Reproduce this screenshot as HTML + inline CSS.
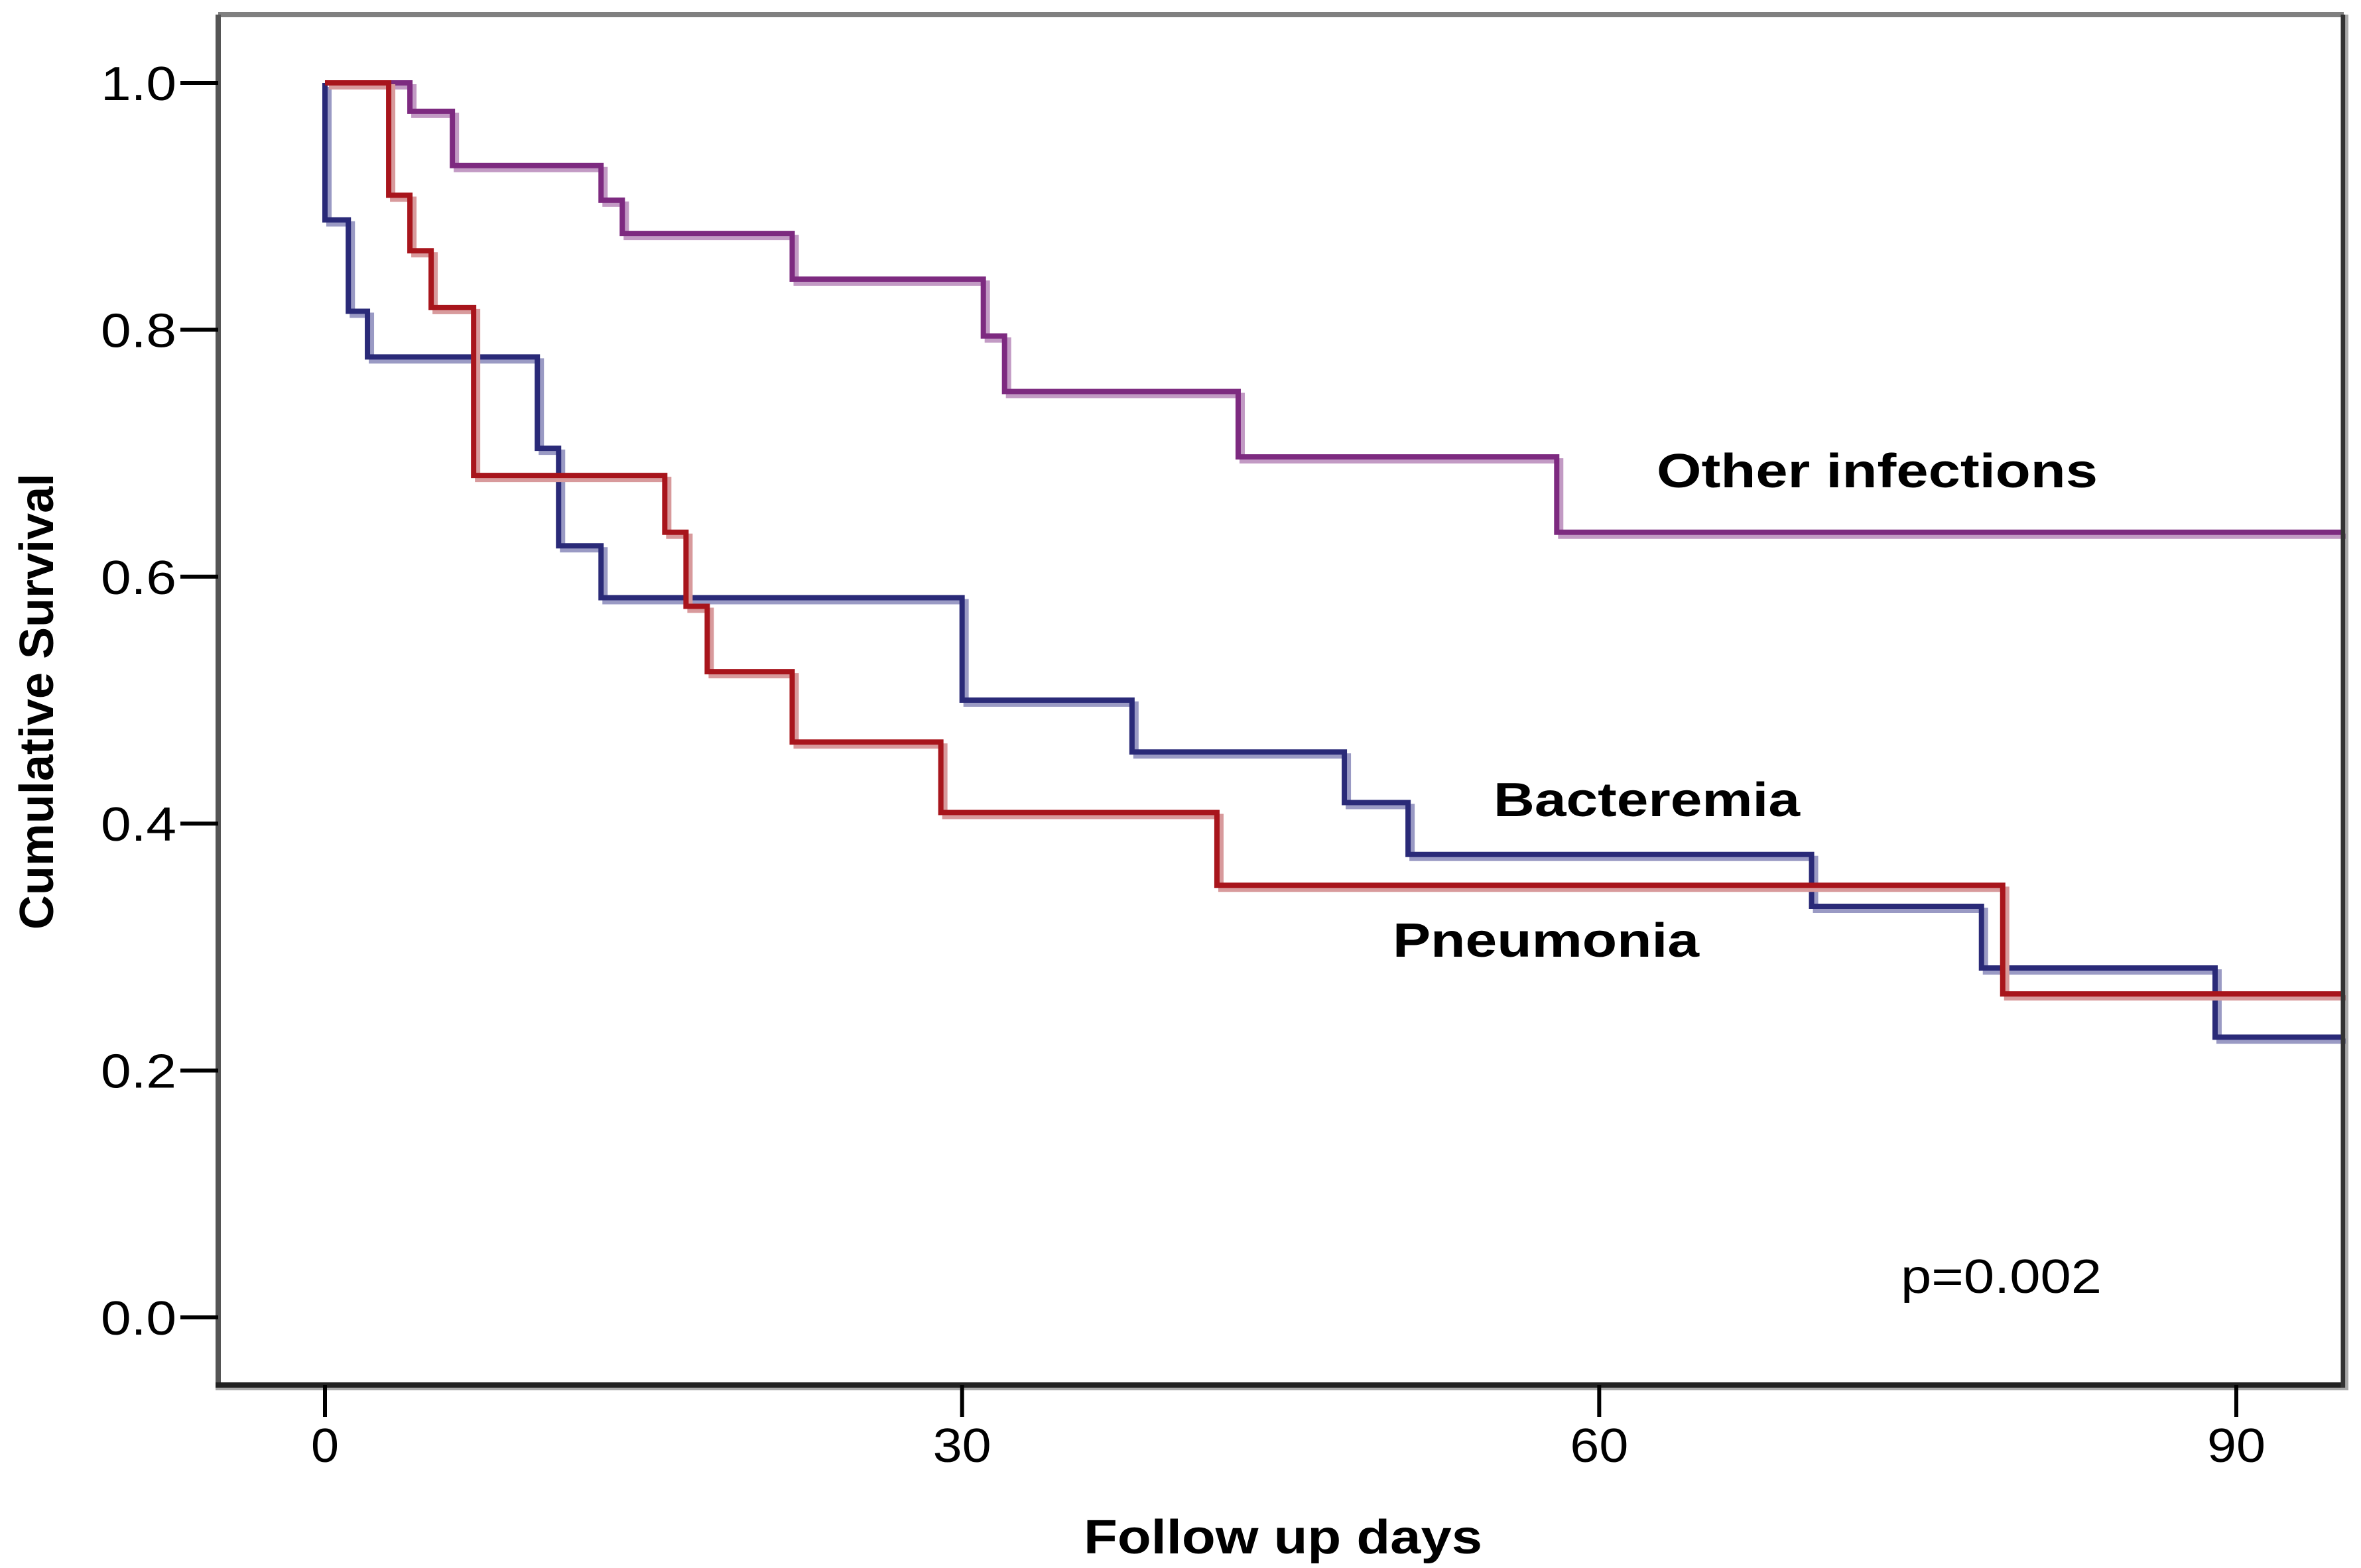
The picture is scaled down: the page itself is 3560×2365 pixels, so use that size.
<!DOCTYPE html>
<html><head><meta charset="utf-8"><style>
html,body{margin:0;padding:0;background:#fff;}
svg{display:block;}
text{font-family:"Liberation Sans",Arial,sans-serif;}
</style></head><body>
<svg id="chart" width="3560" height="2365" viewBox="0 0 3560 2365" xmlns="http://www.w3.org/2000/svg">
<rect x="0" y="0" width="3560" height="2365" fill="#fff"/>
<g id="series"></g>
<line x1="329" y1="22" x2="3534" y2="22" stroke="#808080" stroke-width="8"/>
<line x1="329" y1="22" x2="329" y2="2090" stroke="#555" stroke-width="8"/>
<line x1="325" y1="2089" x2="3536" y2="2089" stroke="#222" stroke-width="8"/>
<line x1="325" y1="2095" x2="3540" y2="2095" stroke="#aaa" stroke-width="4"/>
<line x1="3533" y1="22" x2="3533" y2="2093" stroke="#333" stroke-width="7"/>
<line x1="3539" y1="22" x2="3539" y2="2097" stroke="#aaa" stroke-width="4"/>
<g id="axes"></g>
<text x="2498" y="735" font-size="72" font-weight="bold" textLength="665" lengthAdjust="spacingAndGlyphs">Other infections</text>
<text x="2252" y="1231" font-size="72" font-weight="bold" textLength="462" lengthAdjust="spacingAndGlyphs">Bacteremia</text>
<text x="2100" y="1443" font-size="72" font-weight="bold" textLength="462" lengthAdjust="spacingAndGlyphs">Pneumonia</text>
<text x="2866" y="1950" font-size="72" textLength="303" lengthAdjust="spacingAndGlyphs">p=0.002</text>
<text x="1634" y="2343" font-size="72" font-weight="bold" textLength="601" lengthAdjust="spacingAndGlyphs">Follow up days</text>
<text transform="translate(80,1058) rotate(-90)" font-size="72" font-weight="bold" text-anchor="middle">Cumulative Survival</text>
</svg>
<script>
const xTicks = [0, 30, 60, 90];
const yTicks = [0.0, 0.2, 0.4, 0.6, 0.8, 1.0];
const bactDays = [0, 1.1, 2, 10, 11, 13, 30, 38, 48, 51, 70, 78, 89];
const bactSurv = [0.889, 0.815, 0.778, 0.704, 0.625, 0.583, 0.5, 0.458, 0.417, 0.375, 0.333, 0.283, 0.227];
const pneuDays = [3, 4, 5, 7, 16, 17, 18, 22, 29, 42, 79];
const pneuSurv = [0.909, 0.864, 0.818, 0.682, 0.636, 0.576, 0.523, 0.466, 0.409, 0.35, 0.262];
const otherDays = [4, 6, 13, 14, 22, 31, 32, 43, 58];
const otherSurv = [0.977, 0.933, 0.905, 0.878, 0.841, 0.795, 0.75, 0.697, 0.636];
const endDay = 95;

const NS = "http://www.w3.org/2000/svg";
function xs(d){ return 490 + d * (3372 - 490) / 90; }
function ys(v){ return 1987 - v * (1987 - 125); }

const axes = document.getElementById('axes');
yTicks.forEach(v => {
  const l = document.createElementNS(NS, 'line');
  l.setAttribute('x1', 272); l.setAttribute('x2', 329);
  l.setAttribute('y1', ys(v)); l.setAttribute('y2', ys(v));
  l.setAttribute('stroke', '#000'); l.setAttribute('stroke-width', 6);
  
  
  axes.appendChild(l);
  const t = document.createElementNS(NS, 'text');
  t.setAttribute('x', 152); t.setAttribute('y', ys(v) + 26);
  t.setAttribute('font-size', 72);
  t.setAttribute('textLength', 114); t.setAttribute('lengthAdjust', 'spacingAndGlyphs');
  t.textContent = v.toFixed(1);
  
  
  axes.appendChild(t);
});
xTicks.forEach(d => {
  const l = document.createElementNS(NS, 'line');
  l.setAttribute('x1', xs(d)); l.setAttribute('x2', xs(d));
  l.setAttribute('y1', 2089); l.setAttribute('y2', 2137);
  l.setAttribute('stroke', '#000'); l.setAttribute('stroke-width', 6);
  
  
  axes.appendChild(l);
  const t = document.createElementNS(NS, 'text');
  const w = String(d).length > 1 ? 88 : 42;
  t.setAttribute('x', xs(d) - w / 2); t.setAttribute('y', 2205);
  t.setAttribute('font-size', 72);
  t.setAttribute('textLength', w); t.setAttribute('lengthAdjust', 'spacingAndGlyphs');
  t.textContent = d;
  
  
  axes.appendChild(t);
});

function stepPath(days, surv){
  let p = 'M' + xs(0) + ' ' + ys(1);
  for (let i = 0; i < days.length; i++){
    p += ' H' + xs(days[i]) + ' V' + ys(surv[i]);
  }
  p += ' H' + xs(endDay);
  return p;
}
const g = document.getElementById('series');
function drawSeries(days, surv, color, shadow, name){
  const d = stepPath(days, surv);
  const s = document.createElementNS(NS, 'path');
  s.setAttribute('d', d); s.setAttribute('fill', 'none');
  s.setAttribute('stroke', shadow); s.setAttribute('stroke-width', 8);
  s.setAttribute('transform', 'translate(6,6)');
  
  
  g.appendChild(s);
  const p = document.createElementNS(NS, 'path');
  p.setAttribute('d', d); p.setAttribute('fill', 'none');
  p.setAttribute('stroke', color); p.setAttribute('stroke-width', 8);
  
  
  g.appendChild(p);
}
drawSeries(otherDays, otherSurv, '#7d2a80', '#c29ac4', 'other-infections-curve');
drawSeries(bactDays, bactSurv, '#2a2a78', '#9a9ac4', 'bacteremia-curve');
drawSeries(pneuDays, pneuSurv, '#a8151c', '#d89a9c', 'pneumonia-curve');
</script>
</body></html>
